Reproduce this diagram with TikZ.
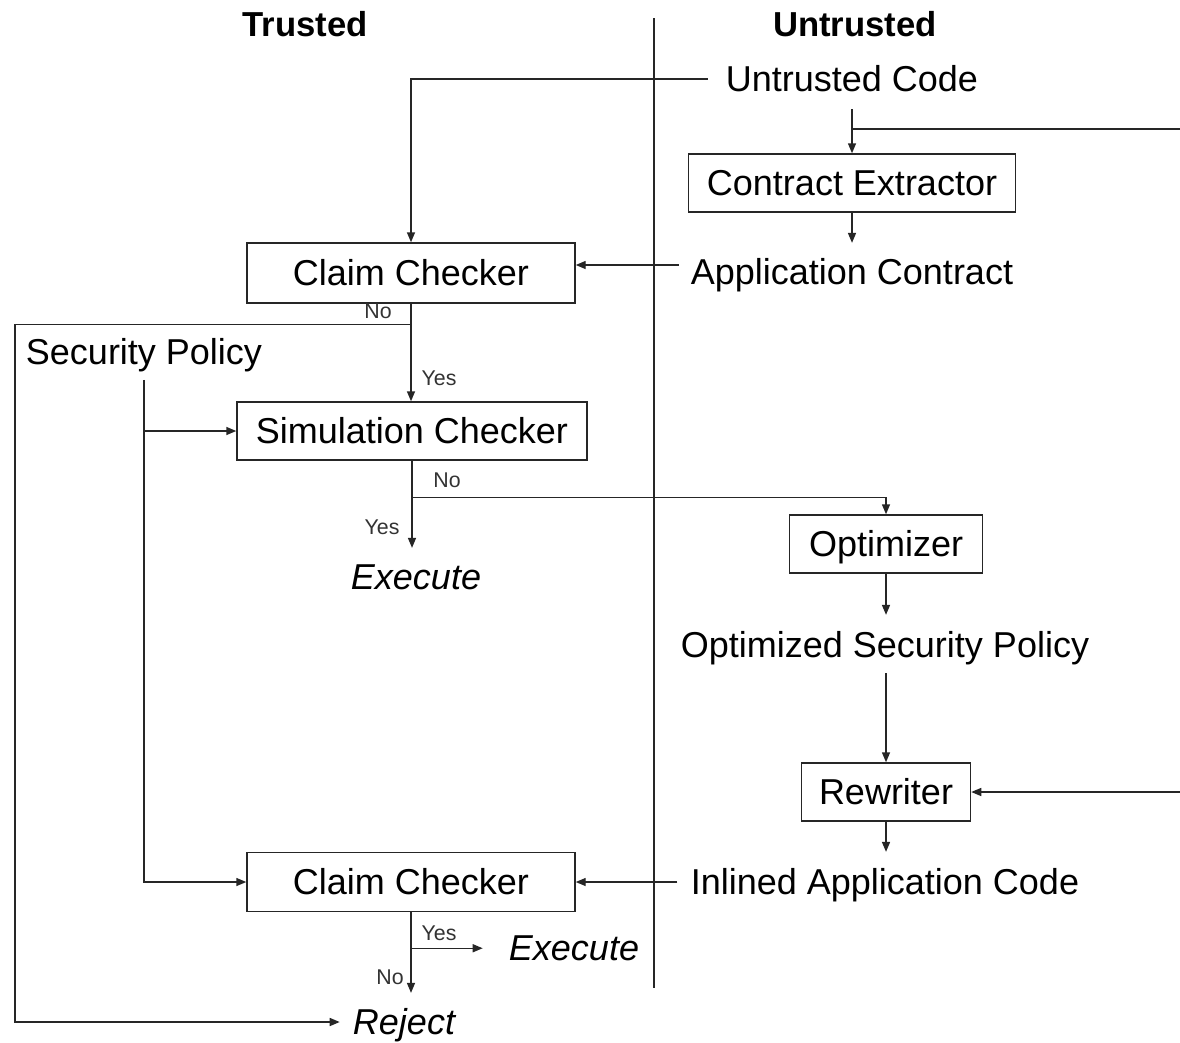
\documentclass[tikz,border=0pt]{standalone}
\usepackage{fontspec}
\setmainfont{Liberation Sans}
\usetikzlibrary{arrows.meta}
\tikzset{
  line/.style={draw=black!85, line width=1.1pt},
  arr/.style={line, -{Triangle[length=7.5pt,width=6pt]}},
  txt/.style={inner sep=0pt, text height=19.3pt, text depth=0pt,
    font=\fontsize{27pt}{32pt}\selectfont},
  emph/.style={txt, font=\fontsize{27pt}{32pt}\selectfont\itshape},
  box/.style={txt, draw=black!85, line width=1.1pt},
  lbl/.style={inner sep=0pt, text height=11.5pt, text depth=0pt,
    font=\fontsize{16pt}{19pt}\selectfont, text=black!80},
  head/.style={inner sep=0pt, text height=18.6pt, text depth=0pt,
    font=\fontsize{26pt}{31pt}\selectfont\bfseries},
}
\begin{document}
\begin{tikzpicture}[x=0.75pt, y=-0.75pt]
  % canvas
  \path[fill=white] (0,0) rectangle (1180,1042);
  \useasboundingbox (0,0) rectangle (1180,1042);

  % column headings and the trust boundary
  \node[head] (trusted) at (305,24) {Trusted};
  \node[head] (untrusted) at (855,24) {Untrusted};
  \coordinate (divtop) at (654,18);
  \coordinate (divbot) at (654,988);
  \draw[line] (divtop) -- (divbot);

  % untrusted side
  \node[txt] (uc) at (852,79) {Untrusted Code};
  \node[box, minimum width=245.25pt, minimum height=43.5pt] (ce) at (852,183) {Contract Extractor};
  \node[txt] (ac) at (852,272) {Application Contract};
  \node[box, minimum width=144.75pt, minimum height=43.5pt] (opt) at (886,544) {Optimizer};
  \node[txt] (osp) at (885,645) {Optimized Security Policy};
  \node[box, minimum width=126.75pt, minimum height=43.5pt] (rw) at (886,792) {Rewriter};
  \node[txt] (iac) at (885,882) {Inlined Application Code};

  % trusted side
  \node[box, minimum width=246pt, minimum height=45pt] (cc1) at (411,273) {Claim Checker};
  \node[txt] (sp) at (144,352) {Security Policy};
  \node[box, minimum width=262.5pt, minimum height=43.5pt] (sc) at (412,431) {Simulation Checker};
  \node[emph] (ex1) at (416,577) {Execute};
  \node[box, minimum width=246pt, minimum height=44.25pt] (cc2) at (411,882) {Claim Checker};
  \node[emph] (ex2) at (574,948) {Execute};
  \node[emph] (rej) at (404,1022) {Reject};

  % branch labels
  \node[lbl] (no1) at (378,311) {No};
  \node[lbl] (yes1) at (439,378) {Yes};
  \node[lbl] (no2) at (447,480) {No};
  \node[lbl] (yes2) at (382,527) {Yes};
  \node[lbl] (yes3) at (439,933) {Yes};
  \node[lbl] (no3) at (390,977) {No};

  % helper points
  \coordinate (ucstem) at ([yshift=-12.75pt]uc.south);
  \coordinate (ucsplit) at (852,129);
  \coordinate (rtop) at (1180,129);
  \coordinate (rbot) at (1180,793);
  \coordinate (n1) at ([yshift=-15.75pt]cc1.south);
  \coordinate (lft) at (15,324);
  \coordinate (spstem) at ([yshift=-11pt]sp.south);
  \coordinate (n2) at ([yshift=-27.75pt]sc.south);
  \coordinate (ex1top) at ([yshift=12pt]ex1.north);
  \coordinate (y3) at ([yshift=-27pt]cc2.south);
  \coordinate (rejtop) at ([yshift=12pt]rej.north);
  \coordinate (acin) at ([yshift=6pt]cc1.east);
  \coordinate (acout) at ([xshift=-9pt]ac.west);
  \coordinate (iacout) at ([xshift=-10pt]iac.west);
  \coordinate (ospin) at ([yshift=12.75pt]osp.north);
  \coordinate (ospout) at ([yshift=-11.25pt]osp.south);
  \coordinate (iacin) at ([yshift=12.75pt]iac.north);

  % untrusted code flow
  \draw[arr] ([xshift=-13.5pt]uc.west) -| (cc1.north);
  \draw[arr] (ucstem) -- (ce.north);
  \draw[line] (ucsplit) -- (rtop);
  \draw[arr] (ce.south) -- ([yshift=12pt]ac.north);
  \draw[arr] (acout |- acin) -- (acin);

  % first claim check
  \draw[arr] (cc1.south) -- (cc1.south |- sc.north);
  \draw[arr] (n1) -- (n1 -| lft) |- ([xshift=-9.75pt]rej.west);

  % security policy feeds both checkers
  \draw[arr] (spstem) |- (cc2.west);
  \draw[arr] (spstem |- sc.west) -- (sc.west);

  % simulation check
  \draw[arr] (sc.south) -- (sc.south |- ex1top);
  \draw[arr] (n2) -| (opt.north);

  % rewriting path
  \draw[arr] (opt.south) -- (opt.south |- ospin);
  \draw[arr] (rw.north |- ospout) -- (rw.north);
  \draw[arr] (rbot |- rw.east) -- (rw.east);
  \draw[arr] (rw.south) -- (rw.south |- iacin);
  \draw[arr] (iacout |- cc2.east) -- (cc2.east);

  % second claim check
  \draw[arr] (cc2.south) -- (cc2.south |- rejtop);
  \draw[arr, shorten >=19.5pt] (y3) -- (y3 -| ex2.west);
\end{tikzpicture}
\end{document}
